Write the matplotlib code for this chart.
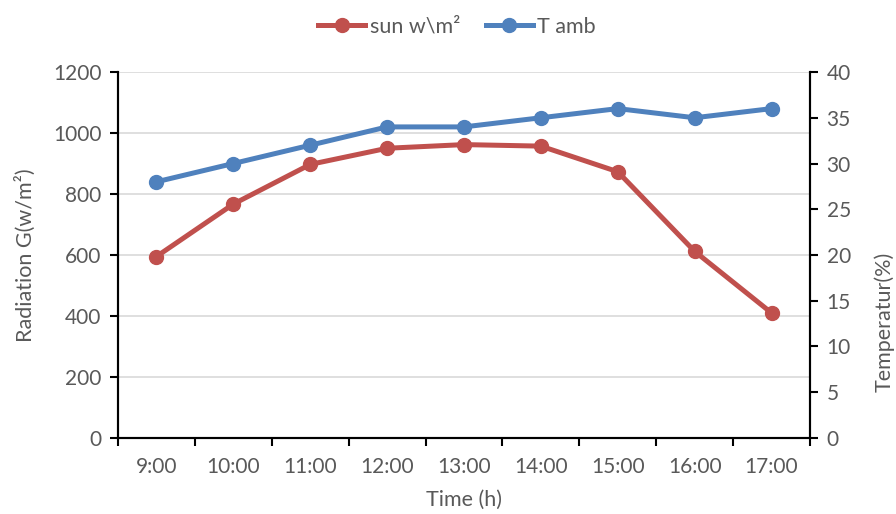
import numpy as np
import matplotlib.pyplot as plt

plt.rcParams['font.family'] = ['Lato', 'DejaVu Sans']

# dados
horas = ['9:00', '10:00', '11:00', '12:00', '13:00', '14:00', '15:00', '16:00', '17:00']
sol = [595, 767, 897, 950, 962, 957, 873, 612, 410]
t_amb = [28, 30, 32, 34, 34, 35, 36, 35, 36]

vermelho = '#C0504D'
azul = '#4F81BD'
cinza = '#595959'

fig = plt.figure(figsize=(8.96, 5.14), dpi=100)
ax = fig.add_axes([0.1317, 0.1479, 0.904 - 0.1317, 0.8599 - 0.1479])
ax2 = ax.twinx()

x = np.arange(len(horas))
l1, = ax.plot(x, sol, color=vermelho, lw=3.6, marker='o', ms=10, label='sun w\\m²', zorder=3)
l2, = ax2.plot(x, t_amb, color=azul, lw=3.6, marker='o', ms=10, label='T amb', zorder=3)

ax.set_xlim(-0.5, len(horas) - 0.5)
ax.set_ylim(0, 1200)
ax2.set_ylim(0, 40)
ax.set_yticks(np.arange(0, 1201, 200))
ax2.set_yticks(np.arange(0, 41, 5))

# eixo de categorias no estilo Excel
ax.set_xticks(np.arange(-0.5, len(horas), 1))
ax.set_xticklabels([])
ax.set_xticks(x, minor=True)
ax.set_xticklabels(horas, minor=True)
ax.tick_params(axis='x', which='major', length=6, width=1.5, color='black', direction='out')
ax.tick_params(axis='x', which='minor', length=0, pad=14, labelsize=15, labelcolor=cinza)
ax.tick_params(axis='y', length=6, width=1.5, labelsize=15, labelcolor=cinza, pad=6)
ax2.tick_params(axis='y', length=6, width=1.5, labelsize=15, labelcolor=cinza, pad=6)

ax.grid(axis='y', color='#D9D9D9', lw=1.2)
ax.set_axisbelow(True)

for a in (ax, ax2):
    a.spines['top'].set_visible(False)
    for s in ('left', 'right', 'bottom'):
        a.spines[s].set_linewidth(1.5)
        a.spines[s].set_color('black')

ax.set_xlabel('Time (h)', fontsize=15.5, color=cinza, labelpad=9)
ax.set_ylabel('Radiation G(w/m²)', fontsize=15.5, color=cinza, labelpad=12)
ax2.set_ylabel('Temperatur(%)', fontsize=15.5, color=cinza)
ax2.yaxis.set_label_coords(1.093, 0.317)

fig.legend(handles=[l1, l2], loc='upper center', bbox_to_anchor=(0.51, 1.005), ncol=2,
           frameon=False, fontsize=15.5, labelcolor=cinza, handlelength=2.2,
           handletextpad=0.2, columnspacing=1.2)

fig.savefig('out.png', dpi=100)
